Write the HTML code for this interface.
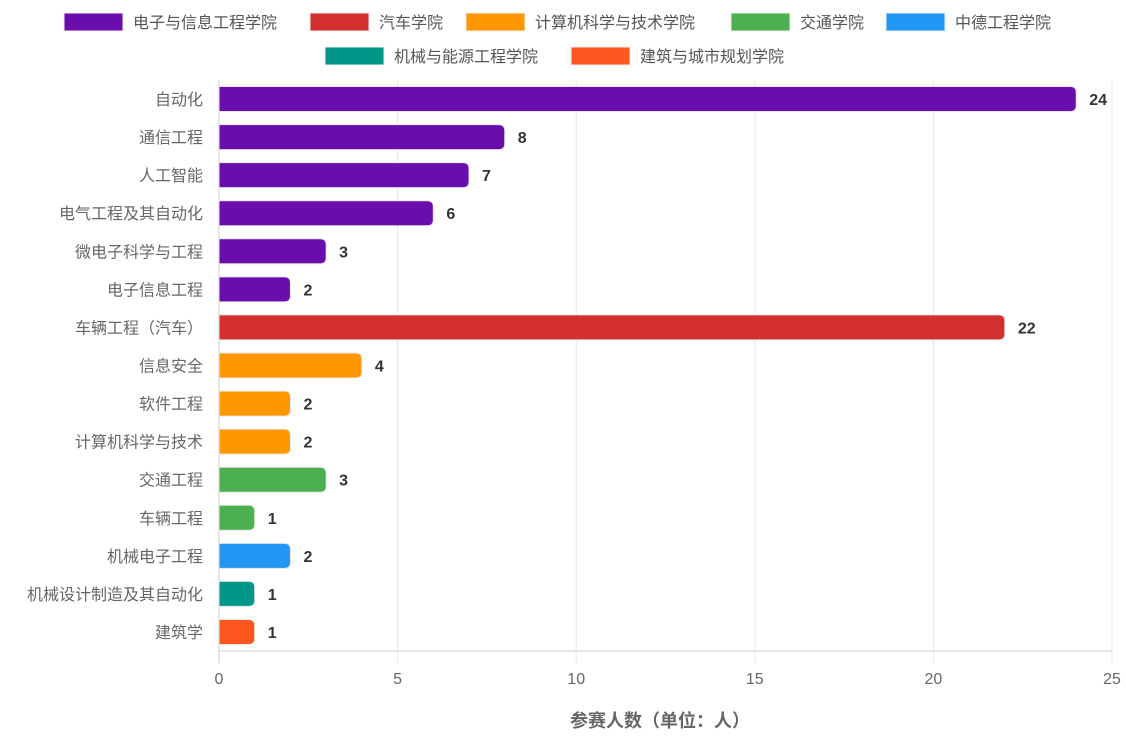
<!DOCTYPE html>
<html><head><meta charset="utf-8"><style>
body{margin:0;background:#fff;}
svg text{font-family:"Liberation Sans","Noto Sans CJK SC",sans-serif;}
</style></head><body>
<svg id="chart" width="1126" height="750" xmlns="http://www.w3.org/2000/svg">
<g id="legend"></g>
<g id="grid"></g>
<g id="bars"></g>
<g id="labels"></g>
<text x="660" y="727" text-anchor="middle" font-size="18" font-weight="bold" fill="#666">参赛人数（单位：人）</text>
</svg>
<script>
const categories=["自动化","通信工程","人工智能","电气工程及其自动化","微电子科学与工程","电子信息工程","车辆工程（汽车）","信息安全","软件工程","计算机科学与技术","交通工程","车辆工程","机械电子工程","机械设计制造及其自动化","建筑学"];
const values=[24,8,7,6,3,2,22,4,2,2,3,1,2,1,1];
const groupIndex=[0,0,0,0,0,0,1,2,2,2,3,3,4,5,6];
const groups=["电子与信息工程学院","汽车学院","计算机科学与技术学院","交通学院","中德工程学院","机械与能源工程学院","建筑与城市规划学院"];
const colors=["#6A0DAD","#D32F2F","#FF9800","#4CAF50","#2196F3","#009688","#FF5722"];
const ticks=[0,5,10,15,20,25];
const NS="http://www.w3.org/2000/svg";
const x0=219,x1=1112,plotTop=80,plotBottom=651,xmax=25;
const xs=v=>x0+(x1-x0)*v/xmax;
const band=(plotBottom-plotTop)/categories.length;
const ys=i=>plotTop+band*(i+0.5);
function mk(t,a,p){const e=document.createElementNS(NS,t);for(const k in a)e.setAttribute(k,a[k]);p.appendChild(e);return e;}
const grid=document.getElementById('grid'),bars=document.getElementById('bars'),labels=document.getElementById('labels'),legend=document.getElementById('legend');
ticks.forEach(t=>{
 const l=mk('line',{x1:xs(t),x2:xs(t),y1:plotTop,y2:plotBottom+12,stroke:'#e8e8e8','stroke-width':1},grid);
 
 
 const tx=mk('text',{x:xs(t),y:684,'text-anchor':'middle','font-size':16,fill:'#666'},grid);
 tx.textContent=t;
 
 
});
const ax=mk('line',{x1:x0,x2:x1,y1:plotBottom,y2:plotBottom,stroke:'#ddd','stroke-width':1.5},grid);


const ay=mk('line',{x1:x0,x2:x0,y1:plotTop,y2:plotBottom+12,stroke:'#ddd','stroke-width':1.5},grid);


const bh=25,r=6;
categories.forEach((c,i)=>{
 const y=ys(i),w=xs(values[i])-x0,yt=y-bh/2;
 const rr=Math.min(r,w/2);
 const d=`M${x0},${yt}H${x0+w-rr}Q${x0+w},${yt} ${x0+w},${yt+rr}V${yt+bh-rr}Q${x0+w},${yt+bh} ${x0+w-rr},${yt+bh}H${x0}Z`;
 const b=mk('path',{d:d,fill:colors[groupIndex[i]],stroke:'#e6e6e6','stroke-width':1},bars);
 
 
 const lb=mk('text',{x:203,y:y+6,'text-anchor':'end','font-size':16,fill:'#666'},labels);
 lb.textContent=c;
 
 
 const vl=mk('text',{x:xs(values[i])+13,y:y+6,'font-size':16,'font-weight':'bold',fill:'#333'},labels);
 vl.textContent=values[i];
 
 
});
const legPos=[[64,13],[310,13],[466,13],[731,13],[886,13],[325,47],[571,47]];
groups.forEach((g,i)=>{
 const lx=legPos[i][0],ly=legPos[i][1];
 const gg=mk('g',{},legend);
 
 
 mk('rect',{x:lx,y:ly,width:59,height:18,fill:colors[i],stroke:'#eee','stroke-width':1},gg);
 const t=mk('text',{x:lx+69,y:ly+15,'font-size':16,fill:'#555'},gg);
 t.textContent=g;
});
</script>
</body></html>
